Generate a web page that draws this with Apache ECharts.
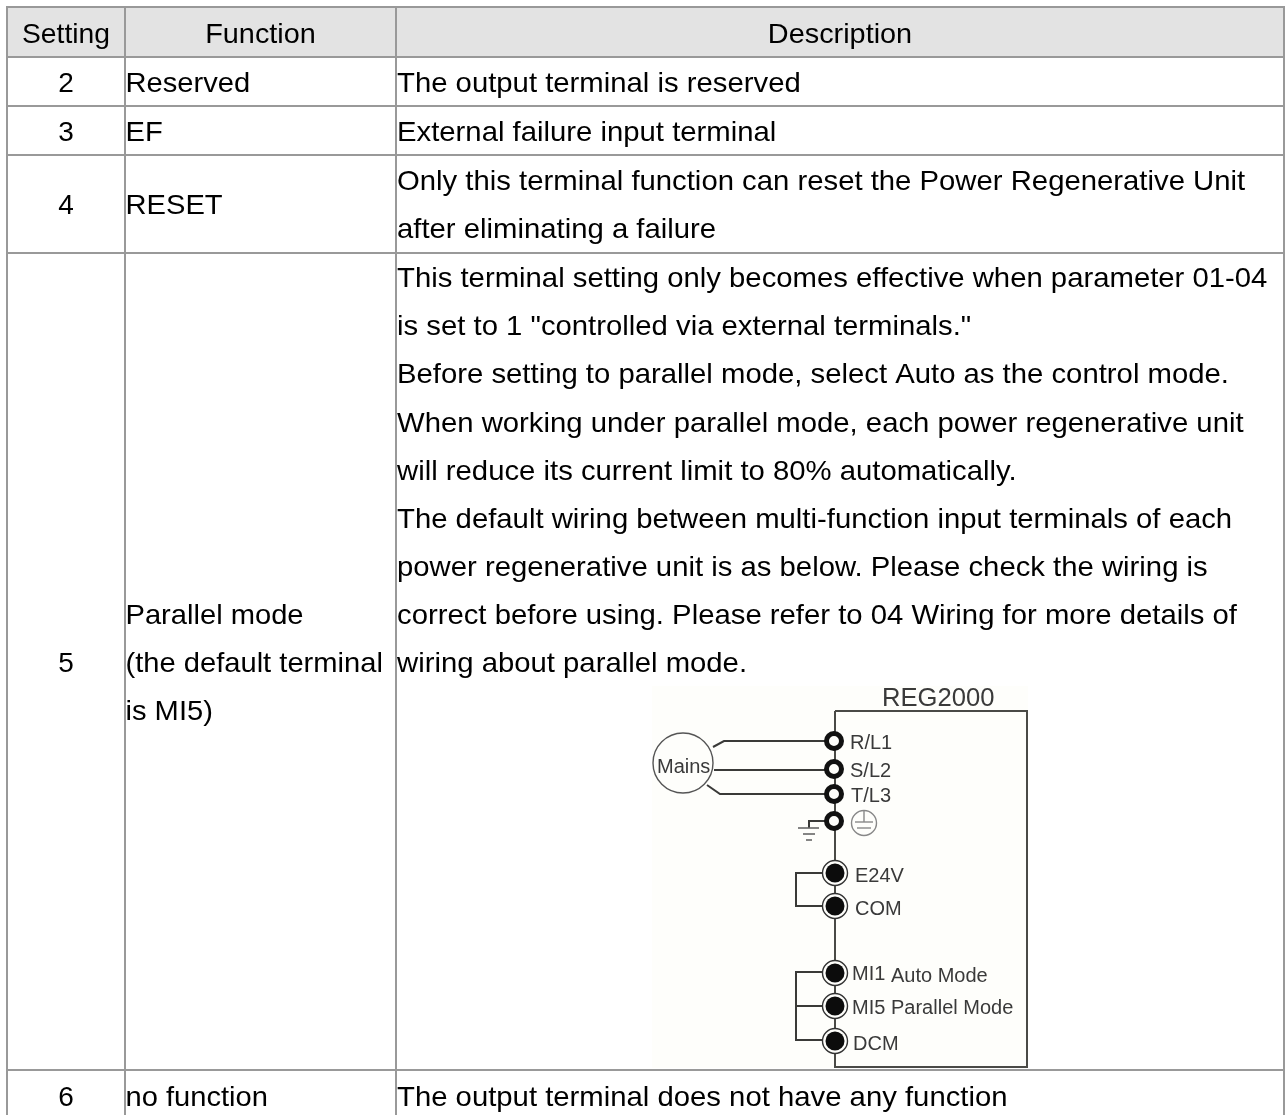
<!DOCTYPE html>
<html><head><meta charset="utf-8">
<style>html,body{margin:0;padding:0;background:#fff}#c{width:1288px;height:1115px}</style>
<script src="https://cdn.jsdelivr.net/npm/echarts@6/dist/echarts.min.js"></script>
</head><body><div id="c"></div>
<script>
// Table content
const headers = ['Setting', 'Function', 'Description'];
const settings = ['2', '3', '4', '5', '6'];
const functionLines = ['Reserved', 'EF', 'RESET', 'Parallel mode', '(the default terminal', 'is MI5)', 'no function'];
const descriptionLines = [
  'The output terminal is reserved',
  'External failure input terminal',
  'Only this terminal function can reset the Power Regenerative Unit',
  'after eliminating a failure',
  'This terminal setting only becomes effective when parameter 01-04',
  'is set to 1 "controlled via external terminals."',
  'Before setting to parallel mode, select Auto as the control mode.',
  'When working under parallel mode, each power regenerative unit',
  'will reduce its current limit to 80% automatically.',
  'The default wiring between multi-function input terminals of each',
  'power regenerative unit is as below. Please check the wiring is',
  'correct before using. Please refer to 04 Wiring for more details of',
  'wiring about parallel mode.',
  'The output terminal does not have any function'
];
// Table scale positions
const columnEdges = [7, 125, 396, 1284];
const rowEdges = [7, 57, 106, 155, 253, 1070, 1115];
const headerBaseline = 43;
const settingBaselines = [92, 141, 214, 672, 1106];
const functionBaselines = [92, 141, 214, 624, 672, 720, 1106];
const descriptionBaselines = [92, 141, 190, 238, 287, 335, 383, 432, 480, 528, 576, 624, 672, 1106];
// Wiring diagram
const boxOutline = [[835, 711], [1027, 711], [1027, 1067], [835, 1067], [835, 711]];
const wires = [
  [[713, 747], [724, 741], [826, 741]],
  [[714, 770], [826, 770]],
  [[707, 785], [720, 794], [826, 794]],
  [[826, 821], [809, 821], [809, 828]],
  [[824, 873], [796, 873], [796, 906], [824, 906]],
  [[824, 972], [796, 972], [796, 1040], [824, 1040]],
  [[796, 1006], [824, 1006]]
];
const groundBars = [[[798, 828], [819, 828]], [[803, 834], [815, 834]], [[806, 840], [812, 840]]];
const mainsCircle = [683, 763, 30];
const ringTerminals = [[834, 741], [834, 769], [834, 794], [834, 821]];
const discTerminals = [[835, 873], [835, 906], [835, 973], [835, 1006], [835, 1041]];
const earthMark = [864, 823, 12.5];
const earthBars = [[[864, 811], [864, 822]], [[855, 822], [873, 822]], [[857, 828], [871, 828]]];
const diagramLabels = [
  ['REG2000', 882, 699, 25.6], ['Mains', 657, 767, 20],
  ['R/L1', 850, 743, 20], ['S/L2', 850, 771, 20], ['T/L3', 851, 796, 20],
  ['E24V', 855, 876, 20], ['COM', 855, 909, 20],
  ['MI1', 852, 974, 20], ['Auto Mode', 891, 976, 20],
  ['MI5', 852, 1008, 20], ['Parallel Mode', 891, 1008, 20], ['DCM', 853, 1044, 20]
];
const diagramPanel = [652, 686, 1028, 1068];

const FONT = '"Liberation Sans", Arial, sans-serif';
const SIZE = 28, MIDDLE_TO_BASELINE = 7.7;
const tableText = (x, baseline, text, align, stretch, c) => {
  const p = c([x, baseline - MIDDLE_TO_BASELINE]);
  return {
    type: 'text', x: p[0], y: p[1], scaleX: stretch, scaleY: 1,
    style: { x: 0, y: 0, text, align, verticalAlign: 'middle', fill: '#000', font: SIZE + 'px ' + FONT }
  };
};

function renderTable(params, api) {
  const kids = [];
  const c = api.coord;
  const a = c([columnEdges[0], rowEdges[0]]), b = c([columnEdges[3], rowEdges[1]]);
  kids.push({ type: 'rect', shape: { x: a[0], y: a[1], width: b[0] - a[0], height: b[1] - a[1] }, style: { fill: '#e3e3e3' } });
  const panelA = c([diagramPanel[0], diagramPanel[1]]), panelB = c([diagramPanel[2], diagramPanel[3]]);
  kids.push({ type: 'rect', shape: { x: panelA[0], y: panelA[1], width: panelB[0] - panelA[0], height: panelB[1] - panelA[1] }, style: { fill: '#fefefb' } });
  const line = { stroke: '#999', lineWidth: 2 };
  const bottom = rowEdges[rowEdges.length - 1];
  columnEdges.forEach(x => {
    const p = c([x, rowEdges[0] - 1]), q = c([x, bottom]);
    kids.push({ type: 'line', shape: { x1: p[0], y1: p[1], x2: q[0], y2: q[1] }, style: line });
  });
  rowEdges.slice(0, -1).forEach(y => {
    const p = c([columnEdges[0] - 1, y]), q = c([columnEdges[3] + 1, y]);
    kids.push({ type: 'line', shape: { x1: p[0], y1: p[1], x2: q[0], y2: q[1] }, style: line });
  });
  const centers = [0, 1, 2].map(i => (columnEdges[i] + columnEdges[i + 1]) / 2);
  headers.forEach((h, i) => kids.push(tableText(centers[i], headerBaseline, h, 'center', i === 0 ? 1.01 : 1.03, c)));
  settings.forEach((t, i) => kids.push(tableText(centers[0], settingBaselines[i], t, 'center', 1, c)));
  functionLines.forEach((t, i) => kids.push(tableText(columnEdges[1] + 0.5, functionBaselines[i], t, 'left', 1.04, c)));
  descriptionLines.forEach((t, i) => kids.push(tableText(columnEdges[2] + 1, descriptionBaselines[i], t, 'left', 1.046, c)));
  return { type: 'group', children: kids };
}

function renderDiagram(params, api) {
  const kids = [];
  const c = api.coord;
  const poly = (pts, stroke, lineWidth) => ({ type: 'polyline', shape: { points: pts.map(p => c(p)) }, style: { stroke, lineWidth, fill: null } });
  kids.push(poly(boxOutline, '#4a4a46', 2));
  wires.forEach(pts => kids.push(poly(pts, '#3a3a38', 2)));
  groundBars.forEach(pts => kids.push(poly(pts, '#666', 1.6)));
  earthBars.forEach(pts => kids.push(poly(pts, '#888', 1.4)));
  const m = c(mainsCircle);
  kids.push({ type: 'circle', shape: { cx: m[0], cy: m[1], r: mainsCircle[2] }, style: { stroke: '#555', lineWidth: 1.4, fill: 'transparent' } });
  const e = c(earthMark);
  kids.push({ type: 'circle', shape: { cx: e[0], cy: e[1], r: earthMark[2] }, style: { stroke: '#888', lineWidth: 1.4, fill: 'transparent' } });
  ringTerminals.forEach(t => { const p = c(t); kids.push({ type: 'circle', shape: { cx: p[0], cy: p[1], r: 7.5 }, style: { stroke: '#111', lineWidth: 5, fill: '#fefefb' } }); });
  discTerminals.forEach(t => {
    const p = c(t);
    kids.push({ type: 'circle', shape: { cx: p[0], cy: p[1], r: 12.5 }, style: { stroke: '#333', lineWidth: 1.4, fill: '#fefefb' } });
    kids.push({ type: 'circle', shape: { cx: p[0], cy: p[1], r: 9.5 }, style: { fill: '#0c0c0c' } });
  });
  diagramLabels.forEach(([t, x, y, s]) => {
    const p = c([x, y]);
    kids.push({ type: 'text', style: { x: p[0], y: p[1], text: t, align: 'left', verticalAlign: 'middle', fill: '#3a3a3a', font: s + 'px ' + FONT } });
  });
  return { type: 'group', children: kids };
}

const chart = echarts.init(document.getElementById('c'), null, { renderer: 'canvas' });
chart.setOption({
  animation: false,
  backgroundColor: '#fff',
  grid: { left: 0, right: 0, top: 0, bottom: 0 },
  xAxis: { type: 'value', min: 0, max: 1288, show: false },
  yAxis: { type: 'value', min: 0, max: 1115, inverse: true, show: false },
  series: [
    { type: 'custom', silent: true, clip: false, data: [[0, 0]], renderItem: renderTable, z: 1 },
    { type: 'custom', silent: true, clip: false, data: [[0, 0]], renderItem: renderDiagram, z: 2 }
  ]
});
</script></body></html>
